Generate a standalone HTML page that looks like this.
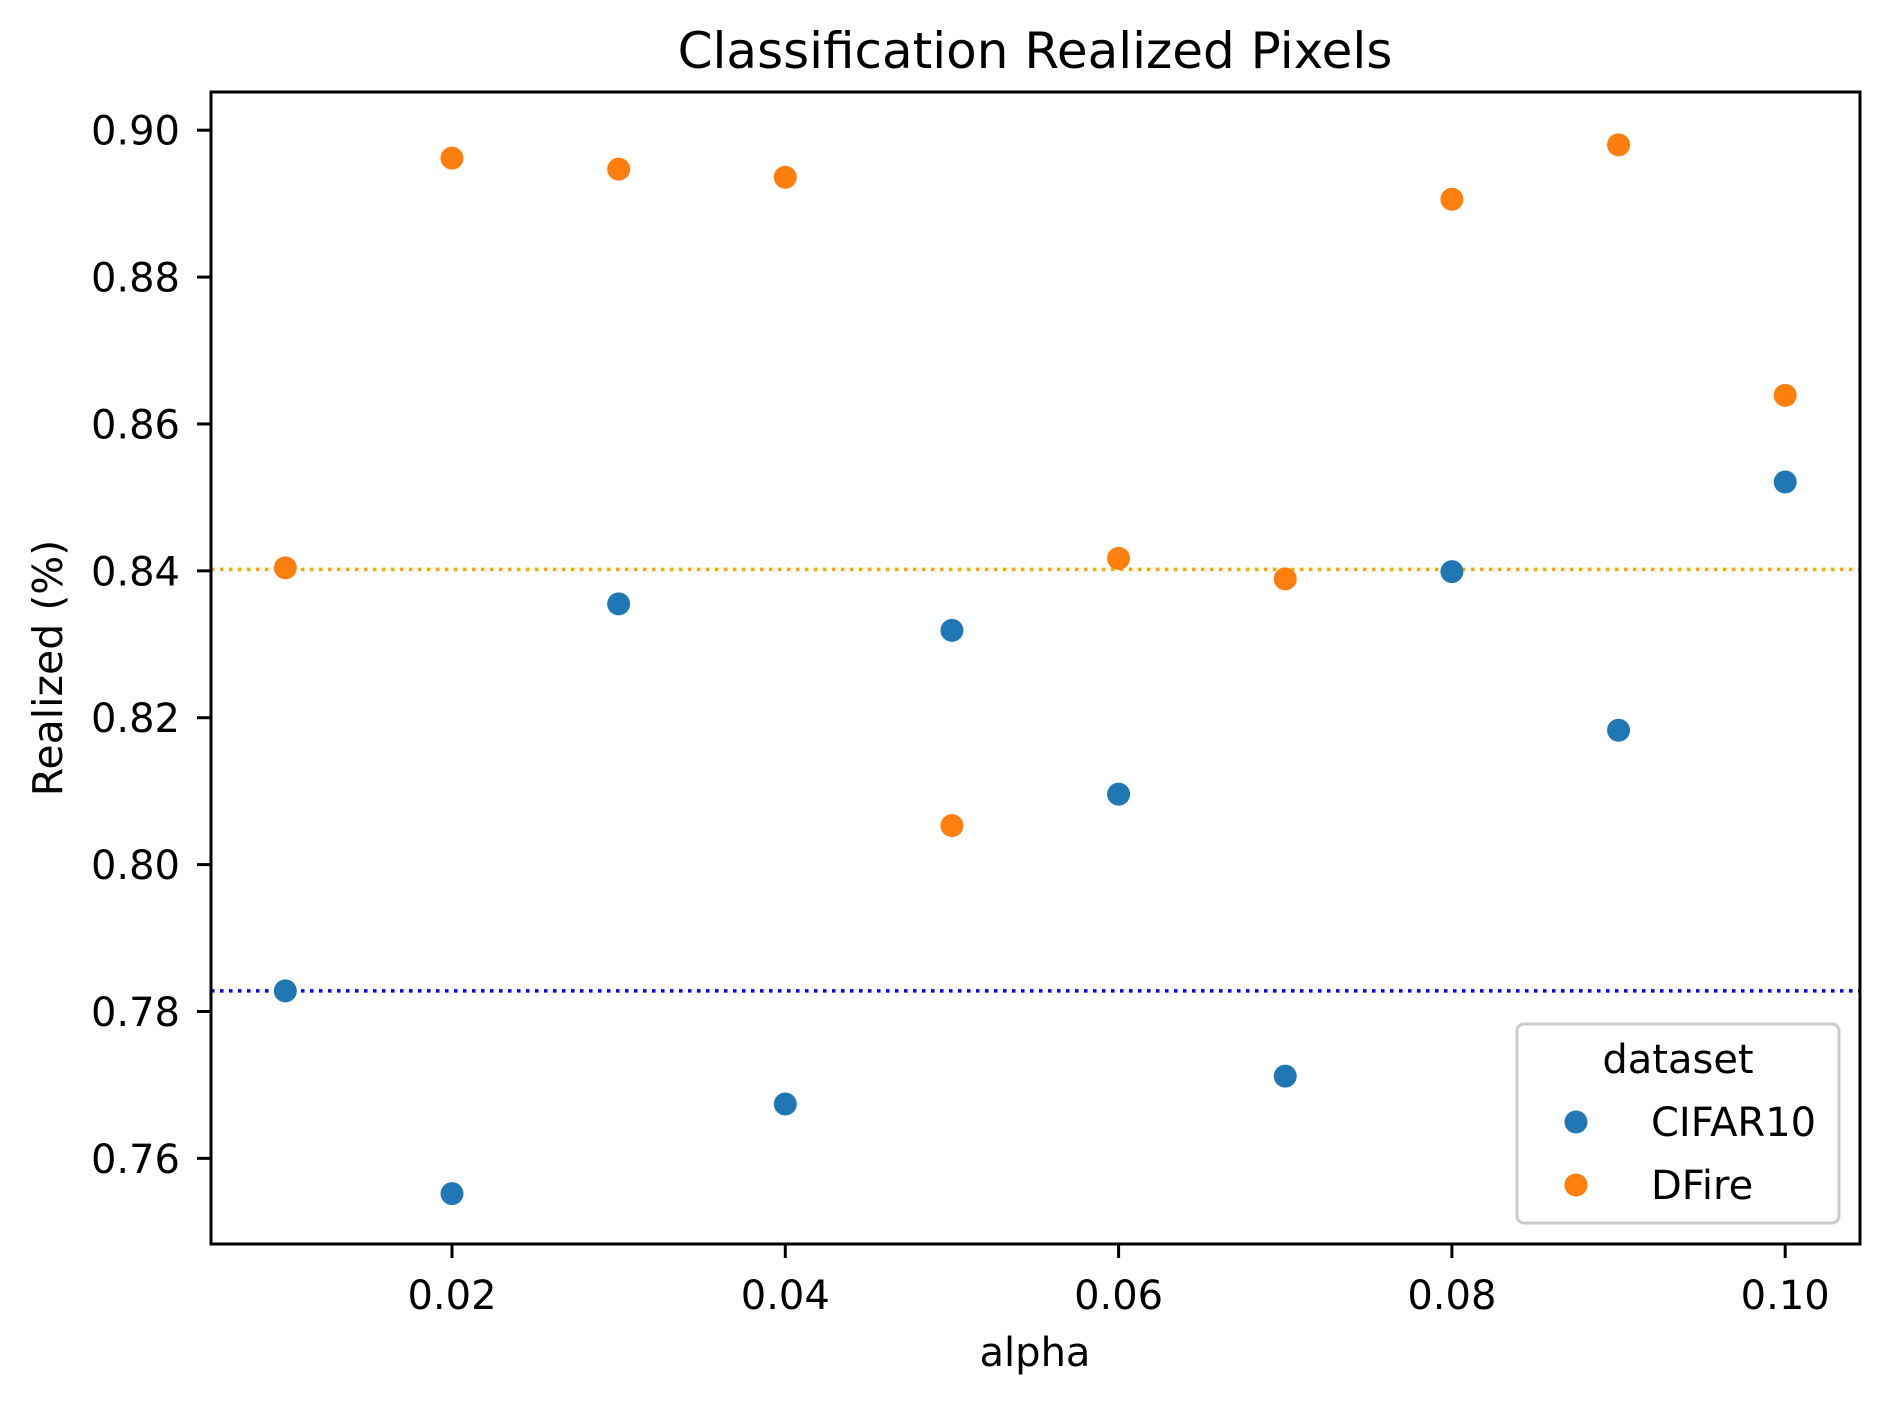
<!DOCTYPE html>
<html><head><meta charset="utf-8"><style>
html,body{margin:0;padding:0;background:#fff;}
svg{display:block;font-family:"DejaVu Sans","Liberation Sans",sans-serif;}
</style></head><body>
<svg id="chart" width="1890" height="1406" viewBox="0 0 1890 1406" xmlns="http://www.w3.org/2000/svg">
<rect width="1890" height="1406" fill="#fff"/>
<g id="plot"></g>
</svg>
<script>
const alphas = [0.01,0.02,0.03,0.04,0.05,0.06,0.07,0.08,0.09,0.10];
const cifar10 = [0.7828,0.7552,0.8355,0.7674,0.8319,0.8096,0.7712,0.8399,0.8183,0.8521];
const dfire = [0.8404,0.8962,0.8947,0.8936,0.8053,0.8417,0.8389,0.8906,0.8980,0.8639];
const refLines = [0.7828,0.8402];
const xTicks = [0.02,0.04,0.06,0.08,0.10];
const yTicks = [0.76,0.78,0.80,0.82,0.84,0.86,0.88,0.90];

const L=211,R=1860,T=92,B=1244;
const sx=v=>452+(v-0.02)*16665;
const sy=v=>130.2+(0.90-v)*7344;
const NS='http://www.w3.org/2000/svg';
const g=document.getElementById('plot');
function mk(tag,attrs,text){const e=document.createElementNS(NS,tag);for(const k in attrs)e.setAttribute(k,attrs[k]);if(text!==undefined)e.textContent=text;g.appendChild(e);return e;}

let e;
e=mk('text',{x:1035,y:68,'text-anchor':'middle','font-size':50,fill:'#000'},'Classification Realized Pixels');



const refColors=['#0000ff','#ffa500'];
refLines.forEach((v,i)=>{
  const l=mk('line',{x1:L,x2:R,y1:sy(v),y2:sy(v),stroke:refColors[i],'stroke-width':3.5,'stroke-dasharray':'3.5,5.5'});
  
  
});

cifar10.forEach((v,i)=>{
  const c=mk('circle',{cx:sx(alphas[i]),cy:sy(v),r:11.5,fill:'#1f77b4'});
  
  
});
dfire.forEach((v,i)=>{
  const c=mk('circle',{cx:sx(alphas[i]),cy:sy(v),r:11.5,fill:'#ff7f0e'});
  
  
});

xTicks.forEach(v=>{
  const t=mk('line',{x1:sx(v),x2:sx(v),y1:B,y2:B+14,stroke:'#000','stroke-width':3});
  
  
  const lb=mk('text',{x:sx(v),y:1309,'text-anchor':'middle','font-size':40,fill:'#000'},v.toFixed(2));
  
  
});
yTicks.forEach(v=>{
  const t=mk('line',{x1:L-14,x2:L,y1:sy(v),y2:sy(v),stroke:'#000','stroke-width':3});
  
  
  const lb=mk('text',{x:180,y:sy(v)+14.5,'text-anchor':'end','font-size':40,fill:'#000'},v.toFixed(2));
  
  
});

e=mk('rect',{x:L,y:T,width:R-L,height:B-T,fill:'none',stroke:'#000','stroke-width':3});



e=mk('text',{x:1035,y:1366,'text-anchor':'middle','font-size':40,fill:'#000'},'alpha');


e=mk('text',{x:0,y:0,'text-anchor':'middle','font-size':41,fill:'#000',transform:'translate(62,668) rotate(-90)'},'Realized (%)');



e=mk('rect',{x:1517,y:1024,width:322,height:199,rx:7,fill:'#fff','fill-opacity':0.8,stroke:'#cccccc','stroke-width':3});


e=mk('text',{x:1678,y:1073,'text-anchor':'middle','font-size':40,fill:'#000'},'dataset');


e=mk('circle',{cx:1576,cy:1122,r:11.5,fill:'#1f77b4'});


e=mk('text',{x:1651,y:1136,'font-size':40,fill:'#000'},'CIFAR10');


e=mk('circle',{cx:1576,cy:1185,r:11.5,fill:'#ff7f0e'});


e=mk('text',{x:1651,y:1199,'font-size':40,fill:'#000'},'DFire');


</script>
</body></html>
